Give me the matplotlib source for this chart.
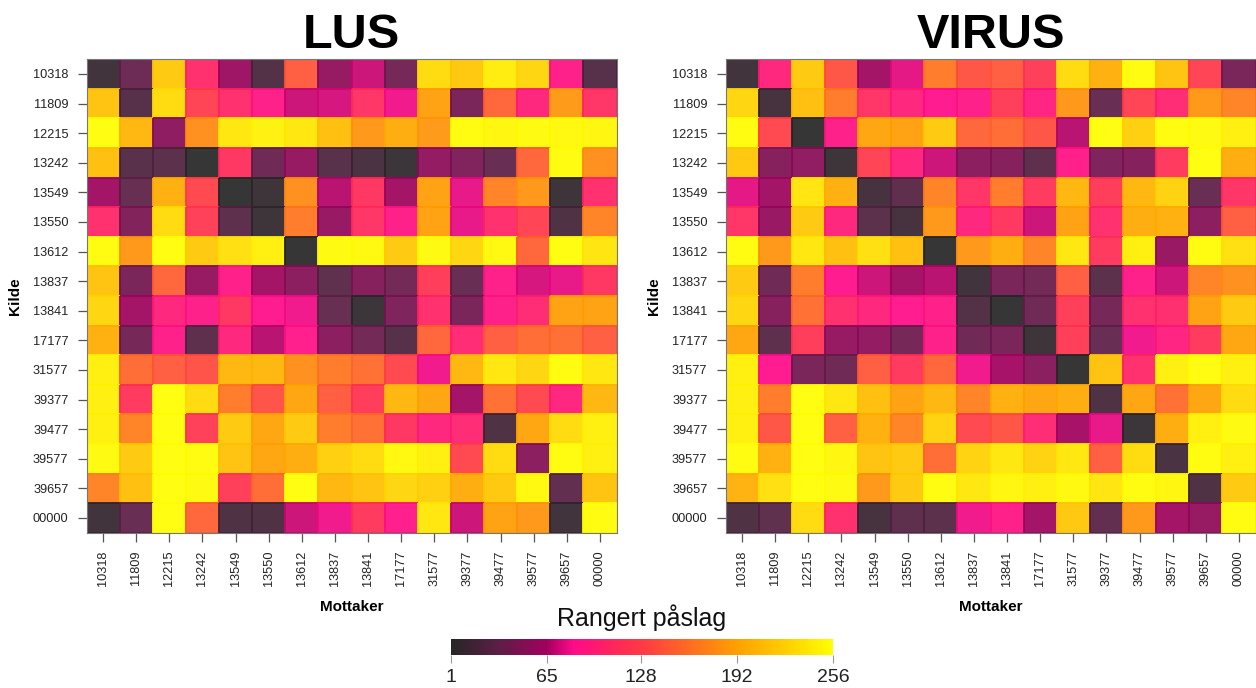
import numpy as np
import matplotlib
matplotlib.use("Agg")
import matplotlib.pyplot as plt
from matplotlib.colors import LinearSegmentedColormap, Normalize
from matplotlib.colorbar import ColorbarBase

plt.rcParams['font.family'] = ['Liberation Sans', 'DejaVu Sans']

codes = ["10318", "11809", "12215", "13242", "13549", "13550", "13612", "13837",
         "13841", "17177", "31577", "39377", "39477", "39577", "39657", "00000"]

lus = [
    [8, 35, 220, 105, 60, 20, 145, 55, 72, 40, 232, 218, 244, 228, 88, 22],
    [215, 22, 232, 125, 105, 88, 72, 74, 110, 80, 190, 42, 150, 95, 185, 110],
    [255, 205, 52, 178, 240, 248, 240, 212, 183, 198, 185, 254, 250, 253, 252, 251],
    [212, 24, 25, 2, 112, 36, 55, 23, 15, 5, 54, 45, 33, 150, 254, 178],
    [62, 32, 200, 130, 1, 6, 178, 68, 112, 62, 190, 78, 170, 183, 6, 105],
    [105, 46, 232, 122, 27, 6, 165, 56, 110, 88, 190, 78, 105, 125, 18, 170],
    [254, 183, 255, 220, 235, 246, 1, 253, 252, 220, 253, 228, 252, 150, 255, 238],
    [215, 42, 150, 55, 88, 62, 50, 28, 48, 38, 118, 33, 88, 74, 78, 112],
    [228, 62, 95, 88, 112, 83, 80, 32, 5, 44, 105, 42, 88, 100, 190, 190],
    [200, 40, 88, 27, 95, 68, 86, 50, 38, 22, 150, 100, 145, 155, 156, 145],
    [246, 155, 145, 138, 205, 205, 178, 165, 157, 130, 80, 205, 240, 228, 254, 240],
    [246, 115, 255, 232, 165, 138, 192, 145, 118, 205, 192, 62, 157, 130, 94, 205],
    [246, 170, 255, 122, 220, 192, 220, 165, 157, 112, 95, 100, 18, 192, 232, 246],
    [253, 220, 255, 254, 215, 192, 198, 224, 232, 252, 246, 130, 232, 50, 254, 246],
    [170, 212, 255, 253, 120, 155, 255, 205, 215, 228, 224, 198, 218, 252, 30, 215],
    [8, 33, 255, 150, 18, 18, 72, 80, 115, 86, 240, 72, 190, 183, 8, 254],
]

virus = [
    [8, 95, 220, 140, 62, 77, 165, 140, 145, 120, 232, 200, 254, 215, 125, 42],
    [228, 12, 212, 165, 110, 95, 83, 88, 120, 92, 183, 33, 125, 100, 183, 170],
    [254, 130, 2, 88, 192, 190, 220, 150, 155, 140, 68, 255, 224, 254, 253, 246],
    [218, 48, 53, 6, 125, 95, 72, 50, 48, 27, 87, 44, 47, 115, 255, 198],
    [77, 62, 238, 200, 12, 27, 170, 110, 165, 115, 205, 118, 205, 226, 33, 110],
    [110, 57, 220, 95, 25, 12, 183, 95, 113, 72, 190, 105, 198, 200, 50, 145],
    [254, 183, 240, 212, 235, 212, 1, 183, 198, 170, 240, 115, 246, 57, 254, 235],
    [220, 36, 165, 83, 72, 62, 68, 8, 42, 38, 145, 25, 88, 72, 170, 178],
    [228, 48, 157, 105, 95, 84, 88, 20, 2, 36, 120, 40, 105, 104, 190, 220],
    [192, 27, 118, 55, 54, 40, 88, 36, 42, 6, 120, 33, 80, 92, 115, 192],
    [246, 83, 42, 36, 145, 115, 150, 80, 64, 50, 2, 215, 105, 246, 254, 246],
    [246, 165, 255, 240, 212, 190, 205, 170, 200, 192, 198, 18, 192, 157, 192, 232],
    [246, 140, 255, 145, 200, 170, 226, 130, 140, 100, 64, 78, 5, 198, 246, 253],
    [254, 200, 255, 250, 215, 220, 155, 226, 240, 226, 240, 145, 232, 14, 254, 246],
    [202, 235, 255, 253, 183, 220, 254, 240, 250, 246, 252, 238, 254, 250, 18, 220],
    [18, 28, 232, 105, 12, 27, 25, 80, 88, 62, 218, 30, 183, 62, 55, 254],
]

panels = [("LUS", lus), ("VIRUS", virus)]
cbar_ticks = [1, 65, 128, 192, 256]

cmap = LinearSegmentedColormap.from_list("rank", [
    (0.00, "#262626"),
    (0.12, "#5a1f45"),
    (0.25, "#a3005f"),
    (0.32, "#ff0a8a"),
    (0.44, "#ff2a55"),
    (0.52, "#ff4040"),
    (0.63, "#ff6e20"),
    (0.75, "#ffa000"),
    (0.88, "#ffcf00"),
    (1.00, "#ffff00"),
])
norm = Normalize(vmin=1, vmax=256)

W, H = 1256, 688
fig = plt.figure(figsize=(W / 100, H / 100), dpi=100)

lefts = [86.5, 725.5]
pw, top_px, bot_px = 530, 59.2, 532.8
n = len(codes)

for (title, data), lx in zip(panels, lefts):
    ax = fig.add_axes([lx / W, 1 - bot_px / H, pw / W, (bot_px - top_px) / H])
    arr = np.array(data, dtype=float)
    ax.pcolormesh(np.arange(n + 1) - 0.5, np.arange(n + 1) - 0.5, arr,
                  cmap=cmap, norm=norm, alpha=0.93, edgecolors='face', linewidth=0.2)
    ax.set_xlim(-0.5, n - 0.5)
    ax.set_ylim(n - 0.5, -0.5)
    ax.set_xticks(range(n))
    ax.set_yticks(range(n))
    ax.set_xticklabels(codes, rotation=90, fontsize=9.2, color="#222222")
    ax.set_yticklabels(codes, fontsize=9.2, color="#222222")
    ax.tick_params(axis='both', length=6.5, width=0.9, color="#555555", pad=6.5)
    for s in ax.spines.values():
        s.set_color("#777777")
        s.set_linewidth(0.8)
    ax.set_xlabel("Mottaker", fontsize=11, fontweight='bold', labelpad=10)
    ax.set_ylabel("Kilde", fontsize=11, fontweight='bold', labelpad=8)
    ax.set_title(title, fontsize=35, fontweight='bold', pad=8)

cax = fig.add_axes([451 / W, 1 - 655 / H, 382 / W, 16 / H])
cb = ColorbarBase(cax, cmap=cmap, norm=norm, orientation='horizontal', ticks=cbar_ticks)
cb.outline.set_visible(False)
cax.tick_params(axis='x', length=6, width=0.8, color="#999999", labelsize=14, pad=4)
cax.set_xticklabels([str(t) for t in cbar_ticks], color="#222222")
fig.text(642 / W, 1 - 618 / H, "Rangert påslag", fontsize=18, ha='center', va='center', color="#111111")

fig.savefig("out.png", dpi=100)
